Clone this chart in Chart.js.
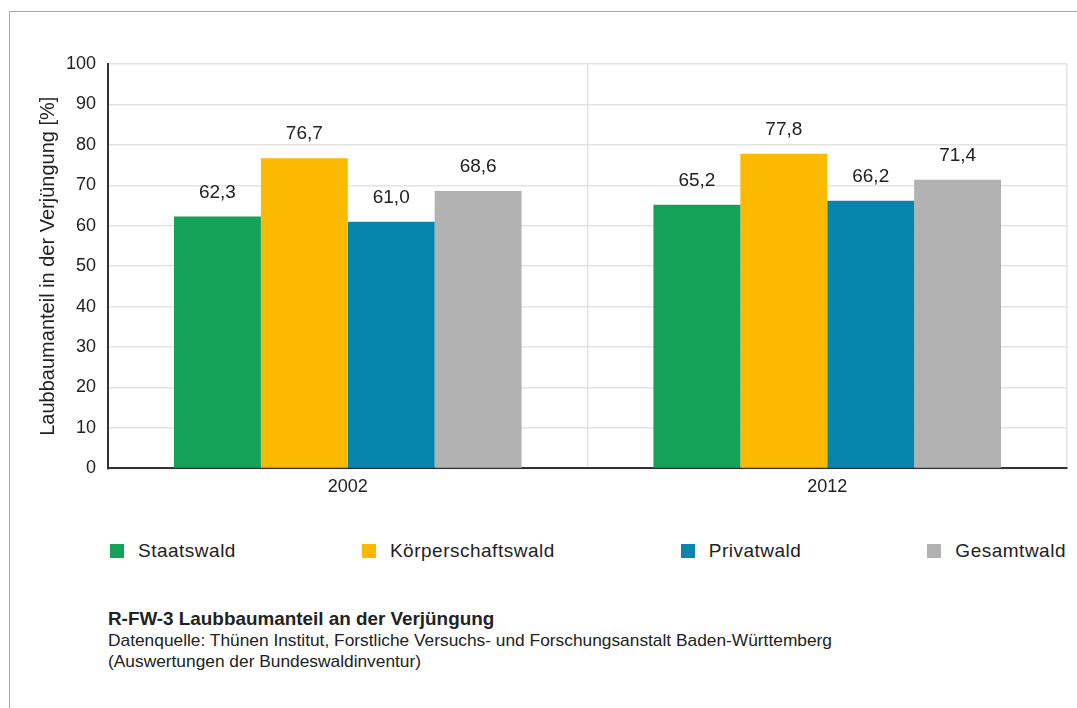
<!DOCTYPE html>
<html>
<head>
<meta charset="utf-8">
<script src="https://cdn.jsdelivr.net/npm/chart.js@4.4.1/dist/chart.umd.min.js"></script>
<style>
  body { margin:0; background:#fff; width:1077px; height:708px; overflow:hidden; position:relative; font-family: "Liberation Sans", Arial, sans-serif; color:#222; }
  #frame { position:absolute; left:9px; top:11px; right:0; bottom:-5px; border-top:1px solid #a8a8a8; border-left:1px solid #a8a8a8; }
  #wrap { position:absolute; left:0; top:0; width:1077px; height:506px; }
  #legend { position:absolute; left:110px; width:956px; top:540px; display:flex; justify-content:space-between; font-size:19px; letter-spacing:0.5px; }
  #legend .item { display:flex; align-items:center; }
  #legend .box { width:14px; height:14px; margin-right:14px; }
  #caption { position:absolute; left:108px; top:608px; font-size:17px; line-height:21px; color:#222; white-space:nowrap; transform-origin:0 0; }
  #caption b { font-size:18.5px; }
</style>
</head>
<body>
<div id="frame"></div>
<div id="wrap"><canvas id="chart"></canvas></div>
<div id="legend"></div>
<div id="caption">
  <b>R-FW-3 Laubbaumanteil an der Verjüngung</b><br>
  <span id="src">Datenquelle: Thünen Institut, Forstliche Versuchs- und Forschungsanstalt Baden-Württemberg</span><br>
  (Auswertungen der Bundeswaldinventur)
</div>
<script>
const years = ['2002', '2012'];
const seriesNames = ['Staatswald', 'Körperschaftswald', 'Privatwald', 'Gesamtwald'];
const staatswald = [62.3, 65.2];
const koerperschaftswald = [76.7, 77.8];
const privatwald = [61.0, 66.2];
const gesamtwald = [68.6, 71.4];
const colors = ['#13a257', '#fbb900', '#0885ad', '#b2b2b2'];
const yTicks = [0, 10, 20, 30, 40, 50, 60, 70, 80, 90, 100];

const seriesValues = [staatswald, koerperschaftswald, privatwald, gesamtwald];
const FONT = '"Liberation Sans", Arial, sans-serif';

// legend as plain html, items spread across the plot width
const $legend = document.getElementById('legend');
seriesNames.forEach((name, i) => {
  $legend.innerHTML += `<div class="item"><span class="box" style="background:${colors[i]}"></span>${name}</div>`;
});

// caption in the original is a condensed face, squeeze it to the same width
const $caption = document.getElementById('caption');
const srcWidth = document.getElementById('src').getBoundingClientRect().width;
$caption.style.transform = 'scaleX(' + (724 / srcWidth) + ')';

const valueLabels = {
  id: 'valueLabels',
  afterDatasetsDraw(chart) {
    const ctx = chart.ctx;
    ctx.save();
    ctx.font = '19px ' + FONT;
    ctx.fillStyle = '#222';
    ctx.textAlign = 'center';
    ctx.textBaseline = 'middle';
    chart.data.datasets.forEach((ds, i) => {
      chart.getDatasetMeta(i).data.forEach((bar, j) => {
        const txt = ds.data[j].toLocaleString('de-DE', {minimumFractionDigits: 1, maximumFractionDigits: 1});
        ctx.fillText(txt, bar.x, bar.y - 24);
      });
    });
    ctx.restore();
  }
};

new Chart(document.getElementById('chart'), {
  type: 'bar',
  data: {
    labels: years,
    datasets: seriesNames.map((name, i) => ({
      label: name,
      data: seriesValues[i],
      backgroundColor: colors[i],
      borderWidth: 0,
      categoryPercentage: 0.725,
      barPercentage: 1
    }))
  },
  options: {
    responsive: true,
    maintainAspectRatio: false,
    animation: false,
    layout: { padding: { top: 64, right: 10, left: 38, bottom: 0 } },
    plugins: {
      legend: { display: false },
      tooltip: { enabled: false }
    },
    scales: {
      x: {
        grid: { offset: true, color: '#e4e4e4', lineWidth: 1.5, drawTicks: false },
        border: { color: '#333', width: 2 },
        ticks: { color: '#222', font: { size: 18, family: FONT }, padding: 8 }
      },
      y: {
        min: 0,
        max: 100,
        afterBuildTicks: (axis) => { axis.ticks = yTicks.map(v => ({ value: v })); },
        grid: { color: '#e4e4e4', lineWidth: 1.5, drawTicks: false },
        border: { color: '#333', width: 2 },
        ticks: { color: '#222', font: { size: 18, family: FONT }, padding: 12 },
        title: {
          display: true,
          text: 'Laubbaumanteil in der Verjüngung [%]',
          color: '#222',
          font: { size: 20, family: FONT, lineHeight: 1 },
          padding: { top: 0, bottom: -4 }
        }
      }
    }
  },
  plugins: [valueLabels]
});
</script>
</body>
</html>
